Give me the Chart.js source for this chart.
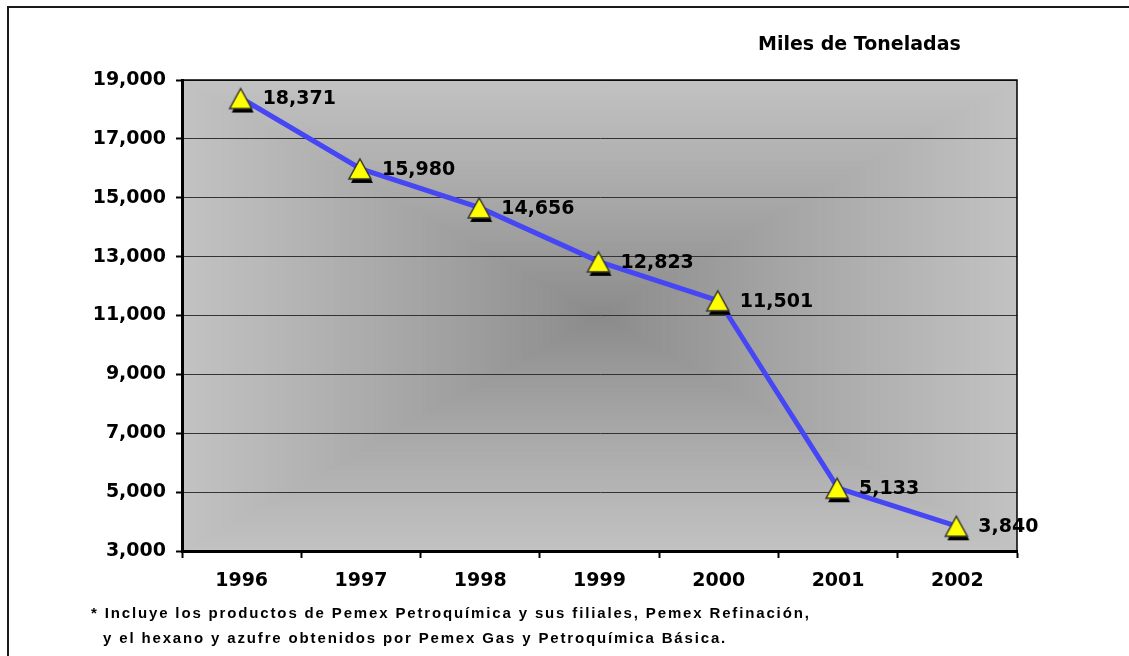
<!DOCTYPE html>
<html>
<head>
<meta charset="utf-8">
<script src="https://cdn.jsdelivr.net/npm/chart.js@4/dist/chart.umd.min.js"></script>
<style>
	body { margin: 0; background: #fff; width: 1129px; height: 656px; overflow: hidden; position: relative; }
	#frame { position: absolute; left: 7px; top: 6px; width: 1200px; height: 700px; border-left: 2px solid #1a1a1a; border-top: 2px solid #1a1a1a; }
	#chart { position: absolute; left: 0; top: 0; }
	#unit { position: absolute; left: 758px; top: 32px; font: bold 19px "DejaVu Sans", sans-serif; color: #000; }
	.note { position: absolute; font: bold 15px "Liberation Sans", Arial, sans-serif; letter-spacing: 1.85px; color: #000; white-space: nowrap; line-height: 18px; }
</style>
</head>
<body>
<div id="frame"></div>
<canvas id="chart" width="1129" height="656"></canvas>
<div id="unit">Miles de Toneladas</div>
<div class="note" style="left:91px; top:604px;">* Incluye los productos de Pemex Petroquímica y sus filiales, Pemex Refinación,</div>
<div class="note" style="left:103px; top:629px;">y el hexano y azufre obtenidos por Pemex Gas y Petroquímica Básica.</div>
<script>
const years = ['1996', '1997', '1998', '1999', '2000', '2001', '2002'];
const tonnage = [18371, 15980, 14656, 12823, 11501, 5133, 3840];
const yTickValues = [3000, 5000, 7000, 9000, 11000, 13000, 15000, 17000, 19000];

const LABEL_FONT = 'bold 19px "DejaVu Sans", sans-serif';

window.onload = () => {
	createChart();
};

// yellow triangle with a black drop shadow, used as the point style
function makeMarker() {
	const c = document.createElement('canvas');
	c.width = 30;
	c.height = 32;
	const g = c.getContext('2d');
	const tri = (dx, dy) => {
		g.beginPath();
		g.moveTo(14 + dx, 6 + dy);
		g.lineTo(25 + dx, 26 + dy);
		g.lineTo(3 + dx, 26 + dy);
		g.closePath();
	};
	tri(2, 4);
	g.fillStyle = '#000';
	g.fill();
	tri(0, 0);
	g.fillStyle = '#ffff00';
	g.fill();
	g.lineWidth = 1.5;
	g.strokeStyle = '#333';
	g.stroke();
	return c;
}

const plotBackground = {
	id: 'plotBackground',
	beforeDraw(chart) {
		const { ctx, chartArea: a } = chart;
		const cx = (a.left + a.right) / 2;
		const cy = (a.top + a.bottom) / 2;
		const hw = (a.right - a.left) / 2;
		const hh = (a.bottom - a.top) / 2;
		const inner = [138, 138, 138];
		const outer = [194, 194, 194];
		const steps = 140;
		ctx.save();
		for (let i = steps; i >= 1; i--) {
			const t = i / steps;
			const col = inner.map((v, k) => Math.round(v + (outer[k] - v) * Math.pow(t, 0.9)));
			ctx.fillStyle = `rgb(${col[0]},${col[1]},${col[2]})`;
			ctx.fillRect(cx - hw * t, cy - hh * t, hw * 2 * t, hh * 2 * t);
		}
		ctx.restore();
	},
	afterDraw(chart) {
		const { ctx, chartArea: a } = chart;
		ctx.save();
		ctx.strokeStyle = '#000';
		ctx.lineWidth = 1.5;
		ctx.beginPath();
		ctx.moveTo(a.left, a.top);
		ctx.lineTo(a.right, a.top);
		ctx.lineTo(a.right, a.bottom);
		ctx.stroke();
		ctx.restore();
	}
};

const valueLabels = {
	id: 'valueLabels',
	afterDatasetsDraw(chart) {
		const ctx = chart.ctx;
		const meta = chart.getDatasetMeta(0);
		ctx.save();
		ctx.font = LABEL_FONT;
		ctx.fillStyle = '#000';
		ctx.textAlign = 'left';
		ctx.textBaseline = 'middle';
		meta.data.forEach((pt, i) => {
			ctx.fillText(tonnage[i].toLocaleString('en-US'), pt.x + 21, pt.y + 1);
		});
		ctx.restore();
	}
};

function createChart() {
	const marker = makeMarker();
	const ctx = document.getElementById('chart').getContext('2d');
	new Chart(ctx, {
		type: 'line',
		data: {
			labels: years,
			datasets: [{
				data: tonnage,
				borderColor: '#4646f5',
				borderWidth: 5,
				tension: 0,
				fill: false,
				pointStyle: marker,
				pointRadius: 10,
				clip: false
			}]
		},
		options: {
			responsive: false,
			animation: false,
			layout: { padding: { left: 0, top: 80, right: 112, bottom: 0 } },
			plugins: {
				legend: { display: false },
				tooltip: { enabled: false }
			},
			scales: {
				x: {
					offset: true,
					afterFit: s => { s.height = 105; },
					grid: {
						offset: true,
						drawOnChartArea: false,
						tickLength: 7,
						tickColor: '#000',
						tickWidth: 2
					},
					border: { color: '#000', width: 3 },
					ticks: {
						color: '#000',
						padding: 12,
						font: { family: 'DejaVu Sans', size: 19, weight: 'bold' }
					}
				},
				y: {
					min: 3000,
					max: 19000,
					afterFit: s => { s.width = 182; },
					afterBuildTicks: s => { s.ticks = yTickValues.map(v => ({ value: v })); },
					grid: {
						color: '#333',
						lineWidth: 1,
						tickLength: 6,
						tickColor: '#000',
						tickWidth: 2
					},
					border: { color: '#000', width: 3 },
					ticks: {
						color: '#000',
						padding: 10,
						font: { family: 'DejaVu Sans', size: 19, weight: 'bold' },
						callback: v => v.toLocaleString('en-US')
					}
				}
			}
		},
		plugins: [plotBackground, valueLabels]
	});
}
</script>
</body>
</html>
